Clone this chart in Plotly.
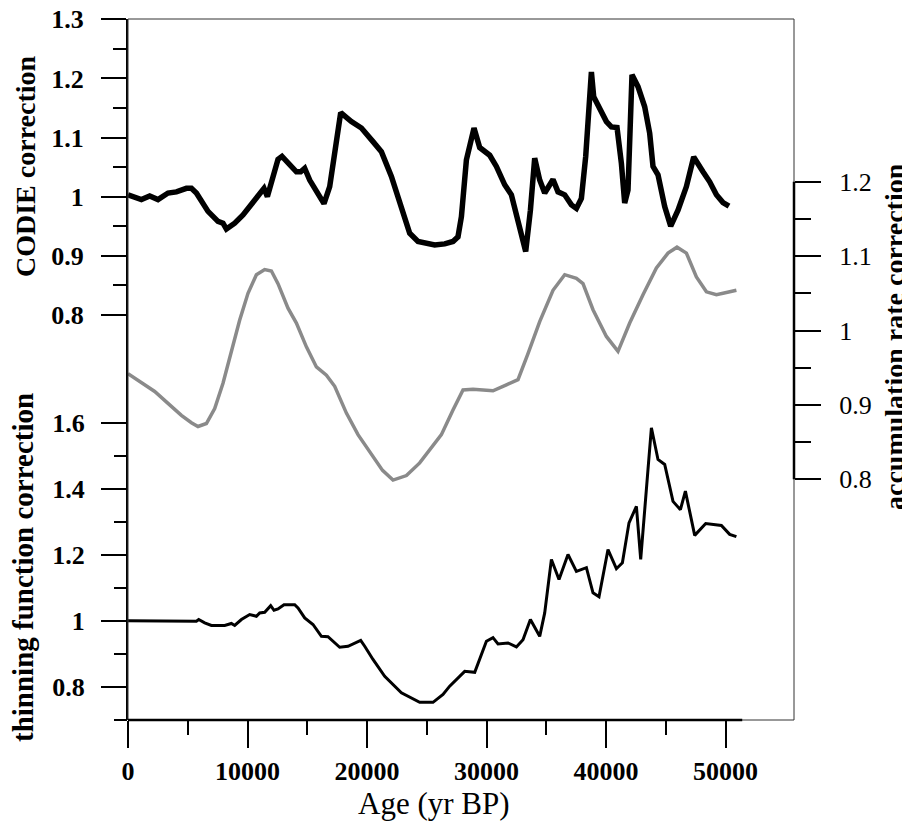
import plotly.graph_objects as go

# ---------------- data ----------------
codie_age = [0, 1121, 1816, 2510, 3347, 4050, 4887, 5305, 5724, 6695, 7531, 7950, 8234, 8929, 9623,
             10326, 11163, 11381, 11665, 12000, 12552, 12887, 13389, 14092, 14452, 14787, 15205, 15766,
             16402, 16879, 17297, 17799, 18694, 19531, 20502, 21205, 22042, 22879, 23573, 24268, 25665,
             26500, 27197, 27615, 27900, 28318, 28954, 29431, 30268, 30828, 31523, 32084, 32636, 33280,
             33674, 34033, 34452, 34870, 35565, 35983, 36544, 37105, 37523, 37941, 38301, 38577, 38778,
             38971, 39473, 40033, 40452, 40921, 41289, 41565, 41841, 42042, 42176, 42678, 43238, 43657,
             43933, 44351, 44912, 45414, 46025, 46728, 47339, 48117, 48678, 49239, 49791, 50293]
codie_val = [1.003, 0.995, 1.001, 0.995, 1.006, 1.008, 1.014, 1.014, 1.006, 0.975, 0.958, 0.955, 0.945,
             0.955, 0.969, 0.986, 1.006, 1.014, 1.000, 1.023, 1.063, 1.068, 1.057, 1.042, 1.042, 1.048,
             1.028, 1.008, 0.988, 1.017, 1.079, 1.142, 1.127, 1.116, 1.093, 1.076, 1.034, 0.983, 0.938,
             0.924, 0.918, 0.920, 0.924, 0.932, 0.966, 1.062, 1.116, 1.083, 1.070, 1.051, 1.020, 1.003,
             0.960, 0.907, 0.977, 1.065, 1.028, 1.006, 1.029, 1.008, 1.003, 0.986, 0.980, 0.997, 1.068,
             1.175, 1.211, 1.169, 1.149, 1.127, 1.118, 1.117, 1.056, 0.989, 1.011, 1.118, 1.206, 1.186,
             1.152, 1.107, 1.051, 1.037, 0.983, 0.950, 0.977, 1.017, 1.067, 1.042, 1.025, 1.003, 0.990,
             0.984]

accum_age = [0, 837, 2234, 3347, 4469, 5305, 5858, 6561, 7255, 7950, 8653, 9347, 10042, 10745, 11439,
             12000, 12552, 13389, 14092, 14929, 15766, 16603, 17297, 18276, 19247, 20368, 21300, 22176,
             23300, 24410, 25300, 26226, 27197, 28034, 28870, 30544, 31665, 32636, 33473, 34452, 35565,
             36544, 37523, 38075, 38912, 40033, 41004, 41983, 43096, 44218, 45188, 45941, 46728, 47565,
             48402, 49239, 50075, 50912]
accum_val = [0.942, 0.933, 0.918, 0.902, 0.886, 0.876, 0.871, 0.875, 0.895, 0.929, 0.974, 1.014, 1.050,
             1.075, 1.082, 1.080, 1.063, 1.030, 1.010, 0.978, 0.951, 0.940, 0.925, 0.889, 0.860, 0.833,
             0.812, 0.799, 0.805, 0.822, 0.840, 0.860, 0.893, 0.920, 0.921, 0.919, 0.927, 0.934, 0.969,
             1.012, 1.054, 1.075, 1.070, 1.063, 1.028, 0.992, 0.972, 1.010, 1.048, 1.084, 1.104, 1.112,
             1.104, 1.072, 1.052, 1.048, 1.051, 1.054]

thin_age = [0, 1955, 2092, 5724, 5916, 6418, 6979, 8092, 8653, 8929, 9490, 10184, 10745, 11021, 11439,
            11941, 12218, 12552, 13054, 13950, 14226, 14787, 15481, 16184, 16736, 17715, 18410, 19473,
            19808, 20502, 21481, 22879, 24410, 25523, 26360, 26920, 28176, 29013, 29992, 30544, 30962,
            31799, 32502, 33054, 33674, 34452, 34870, 35431, 36067, 36820, 37523, 38360, 38912, 39414,
            40167, 40870, 41372, 41925, 42544, 42904, 43515, 43799, 44351, 44912, 45607, 46226, 46644,
            47423, 48343, 49657, 50351, 50912]
thin_val = [1.000, 1.000, 0.998, 0.999, 1.004, 0.994, 0.986, 0.986, 0.992, 0.986, 1.004, 1.019, 1.014,
            1.024, 1.026, 1.046, 1.032, 1.036, 1.049, 1.049, 1.039, 1.009, 0.989, 0.953, 0.952, 0.920,
            0.923, 0.941, 0.923, 0.883, 0.832, 0.782, 0.753, 0.753, 0.777, 0.802, 0.847, 0.844, 0.938,
            0.949, 0.930, 0.933, 0.921, 0.943, 1.004, 0.953, 1.024, 1.186, 1.125, 1.201, 1.150, 1.161,
            1.085, 1.073, 1.216, 1.158, 1.176, 1.297, 1.347, 1.186, 1.459, 1.585, 1.489, 1.474, 1.362,
            1.337, 1.393, 1.259, 1.295, 1.289, 1.262, 1.255]

x_ticks = [0, 10000, 20000, 30000, 40000, 50000]
x_minor = [5000, 15000, 25000, 35000, 45000]
codie_ticks = [0.8, 0.9, 1.0, 1.1, 1.2, 1.3]
codie_labels = ["0.8", "0.9", "1", "1.1", "1.2", "1.3"]
codie_minor = [0.85, 0.95, 1.05, 1.15, 1.25]
thin_ticks = [0.8, 1.0, 1.2, 1.4, 1.6]
thin_labels = ["0.8", "1", "1.2", "1.4", "1.6"]
thin_minor = [0.7, 0.9, 1.1, 1.3, 1.5]
acc_ticks = [0.8, 0.9, 1.0, 1.1, 1.2]
acc_labels = ["0.8", "0.9", "1", "1.1", "1.2"]
acc_minor = [0.85, 0.95, 1.05, 1.15]

# ---------------- layout geometry (page pixels) ----------------
PAGE_W, PAGE_H = 910, 822
OFF = 8                      # default body margin of the html page
W, H = PAGE_W - OFF, PAGE_H - OFF
L, R, T, B = 128, 794, 19, 720   # plot area in page pixels
PW, PH = R - L, B - T
PX_PER_10K = 119.5
x_max = PW / PX_PER_10K * 10000

codie_px = 591.0   # px per unit
thin_px = 330.0
acc_px = 744.0
codie_range = [1.3 - PH / codie_px + 0.0005, 1.3005]
thin_range = [0.6995, 0.6995 + PH / thin_px]
acc_range = [1.2 - (B - 181.7) / acc_px, 1.2 + (181.7 - T) / acc_px]

def fx(px):
    return (px - L) / PW

def fy(py):
    return (B - py) / PH

SERIF = "Liberation Serif"
bold_font = dict(family=SERIF, size=26, color="black", weight="bold")
reg_font = dict(family=SERIF, size=26, color="black")

fig = go.Figure()
fig.add_trace(go.Scatter(x=accum_age, y=accum_val, yaxis="y3", mode="lines",
                         line=dict(color="#8a8a8a", width=3.5), showlegend=False))
fig.add_trace(go.Scatter(x=thin_age, y=thin_val, yaxis="y2", mode="lines",
                         line=dict(color="black", width=3), showlegend=False))
fig.add_trace(go.Scatter(x=codie_age, y=codie_val, yaxis="y", mode="lines",
                         line=dict(color="black", width=5.5), showlegend=False))

common_y = dict(showgrid=False, zeroline=False, ticks="outside", tickwidth=2, tickcolor="black",
                automargin=False, ticklabeloverflow="allow")

fig.update_layout(
    width=W, height=H,
    margin=dict(l=L - OFF, r=PAGE_W - R, t=T - OFF, b=PAGE_H - B, pad=0, autoexpand=False),
    paper_bgcolor="white", plot_bgcolor="white",
    xaxis=dict(range=[0, x_max], showgrid=False, zeroline=False, showline=False, automargin=False,
               tickmode="array", tickvals=x_ticks, ticktext=[str(v) for v in x_ticks],
               ticks="outside", ticklen=27, tickwidth=2, tickcolor="black",
               minor=dict(tickmode="array", tickvals=x_minor, ticks="outside", ticklen=14,
                          tickwidth=2, tickcolor="black"),
               tickfont=bold_font, ticklabelstandoff=1, ticklabeloverflow="allow"),
    yaxis=dict(range=codie_range, showline=True, linewidth=2, linecolor="black",
               tickmode="array", tickvals=codie_ticks, ticktext=codie_labels, ticklen=25,
               minor=dict(tickmode="array", tickvals=codie_minor, ticks="outside", ticklen=13,
                          tickwidth=2, tickcolor="black"),
               tickfont=bold_font, ticklabelstandoff=12, **common_y),
    yaxis2=dict(range=thin_range, overlaying="y", side="left", anchor="x", showline=False,
                tickmode="array", tickvals=thin_ticks, ticktext=thin_labels, ticklen=26,
                minor=dict(tickmode="array", tickvals=thin_minor, ticks="outside", ticklen=13,
                           tickwidth=2, tickcolor="black"),
                tickfont=bold_font, ticklabelstandoff=11, **common_y),
    yaxis3=dict(range=acc_range, overlaying="y", side="right", anchor="x", showline=False,
                tickmode="array", tickvals=acc_ticks, ticktext=acc_labels, ticklen=26,
                minor=dict(tickmode="array", tickvals=acc_minor, ticks="outside", ticklen=16,
                           tickwidth=2, tickcolor="black"),
                tickfont=reg_font, ticklabelstandoff=13, **common_y),
)

shapes = [
    dict(type="rect", xref="paper", yref="paper", x0=0, x1=1, y0=0, y1=1,
         line=dict(color="#333333", width=1), layer="above"),
    dict(type="line", xref="x", yref="paper", x0=0, x1=51400, y0=0, y1=0,
         line=dict(color="black", width=2.5), layer="above"),
    dict(type="line", xref="paper", yref="y3", x0=1, x1=1, y0=0.8, y1=1.2,
         line=dict(color="black", width=2.5), layer="above"),
]
fig.update_layout(shapes=shapes)

title_font = dict(family=SERIF, size=28, color="black", weight="bold")
annotations = [
    dict(text="CODIE correction", xref="paper", yref="paper", x=fx(25), y=fy(166),
         textangle=-90, showarrow=False, font=title_font, xanchor="center", yanchor="middle"),
    dict(text="thinning function correction", xref="paper", yref="paper", x=fx(23), y=fy(568),
         textangle=-90, showarrow=False, font=dict(title_font, size=29),
         xanchor="center", yanchor="middle"),
    dict(text="accumulation rate correction", xref="paper", yref="paper", x=fx(894), y=fy(337),
         textangle=-90, showarrow=False, font=title_font, xanchor="center", yanchor="middle"),
    dict(text="Age (yr BP)", xref="paper", yref="paper", x=fx(434), y=fy(803),
         showarrow=False, font=dict(family=SERIF, size=31, color="black"),
         xanchor="center", yanchor="middle"),
]
fig.update_layout(annotations=annotations)

fig.write_html("out.html")
